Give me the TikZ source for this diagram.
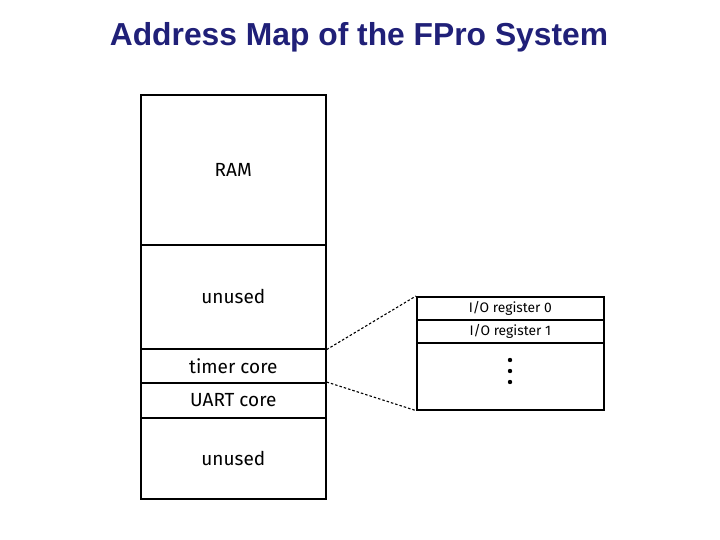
\documentclass[tikz,border=0pt]{standalone}
\usepackage{fontspec}
\setmainfont{Fira Sans}
\newfontfamily\titlefont{Liberation Sans}
\definecolor{titleblue}{RGB}{32,32,120}
\begin{document}
\begin{tikzpicture}[x=1pt,y=-1pt,
  memblk/.style={draw=black,line width=1.6pt,minimum width=185pt,inner sep=0pt,anchor=north west,font=\fontsize{19}{22}\selectfont},
  regblk/.style={draw=black,line width=1.6pt,minimum width=187pt,inner sep=0pt,anchor=north west,font=\fontsize{13.8}{16}\selectfont},
  link/.style={dashed,line width=1.1pt,dash pattern=on 2.5pt off 2pt}]
\useasboundingbox (0,0) rectangle (720,540);
\node[font=\titlefont\bfseries\fontsize{31.8}{36}\selectfont,text=titleblue] (title) at (359,37) {Address Map of the FPro System};
\node[memblk,minimum height=150pt] (ram) at (140,94) {RAM};
\node[memblk,minimum height=104pt] (unused1) at (140,244) {unused};
\node[memblk,minimum height=34pt] (timer) at (140,348) {timer core};
\node[memblk,minimum height=35pt] (uart) at (140,382) {UART core};
\node[memblk,minimum height=81pt] (unused2) at (140,417) {unused};
\node[regblk,minimum height=23pt] (reg0) at (416,296) {I/O register 0};
\node[regblk,minimum height=23pt] (reg1) at (416,319) {I/O register 1};
\node[regblk,minimum height=67pt] (rest) at (416,342) {};
\fill (510,360) circle (2.2);
\fill (510,371) circle (2.2);
\fill (510,382) circle (2.2);
\draw[link] (unused1.south east) -- (reg0.north west);
\draw[link] (uart.north east) -- (rest.south west);
\end{tikzpicture}
\end{document}
